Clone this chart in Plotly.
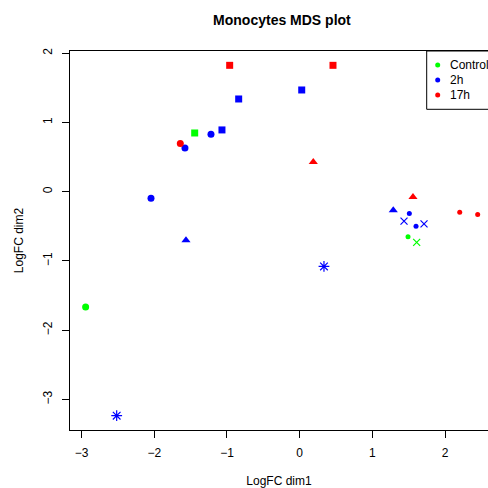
import plotly.graph_objects as go

# ---- data ----
groups = ["Control", "2h", "17h"]

control_x = [-1.444, -2.944, 1.490, 1.609]
control_y = [0.848, -1.667, -0.652, -0.733]
control_donor = ["D1", "D2", "D4", "D5"]

h2_x = [-0.839, 0.028, -1.069, -1.220, -1.578, -2.045, -1.564, 1.287, 1.508, 1.600, 1.435, 1.710, 0.334, -2.517]
h2_y = [1.339, 1.469, 0.892, 0.830, 0.632, -0.094, -0.700, -0.267, -0.315, -0.498, -0.426, -0.465, -1.079, -3.235]
h2_donor = ["D1", "D1", "D1", "D2", "D2", "D2", "D3", "D3", "D4", "D4", "D5", "D5", "D6", "D6"]

h17_x = [-0.963, 0.458, -1.642, 0.187, 1.558, 2.201, 2.448]
h17_y = [1.825, 1.825, 0.696, 0.430, -0.075, -0.296, -0.329]
h17_donor = ["D1", "D1", "D2", "D3", "D3", "D4", "D4"]

x_ticks = [-3, -2, -1, 0, 1, 2]
y_ticks = [-3, -2, -1, 0, 1, 2]

# ---- styles ----
colors = {"Control": "#00ff00", "2h": "#0000ff", "17h": "#ff0000"}
symbol_style = {
    "D1": dict(symbol="square", size=7, lw=0),
    "D2": dict(symbol="circle", size=7, lw=0),
    "D3": dict(symbol="triangle-up", size=8, lw=0),
    "D4": dict(symbol="circle", size=5, lw=0),
    "D5": dict(symbol="x-thin-open", size=7, lw=1.2),
    "D6": dict(symbol="asterisk-open", size=9, lw=1.2),
}
FONT = "Liberation Sans, Arial, Helvetica, sans-serif"

data = {
    "Control": (control_x, control_y, control_donor),
    "2h": (h2_x, h2_y, h2_donor),
    "17h": (h17_x, h17_y, h17_donor),
}

W, H = 488, 488
ML, MR, MT, MB = 70, 0, 51, 58
PW, PH = W - ML - MR, H - MT - MB


def px_x(p):
    return (p - ML) / PW


def px_y(p):
    return (H - MB - p) / PH


fig = go.Figure()
for g in groups:
    xs, ys, ds = data[g]
    c = colors[g]
    fig.add_trace(go.Scatter(
        x=xs, y=ys, mode="markers", showlegend=False, name=g,
        marker=dict(
            color=c, opacity=1,
            symbol=[symbol_style[d]["symbol"] for d in ds],
            size=[symbol_style[d]["size"] for d in ds],
            line=dict(color=c, width=[symbol_style[d]["lw"] for d in ds]),
        ),
    ))

# ---- legend box (drawn like R's legend, running off the right edge) ----
shapes = [dict(type="rect", xref="paper", yref="paper",
               x0=px_x(426.7), x1=1.1, y0=px_y(109.3), y1=1.0,
               line=dict(color="black", width=1), fillcolor="white", layer="above")]
annotations = []
row_y = [65, 80, 95]
for g, ry in zip(groups, row_y):
    shapes.append(dict(type="circle", xref="paper", yref="paper",
                       xsizemode="pixel", ysizemode="pixel",
                       xanchor=px_x(437.7), yanchor=px_y(ry),
                       x0=-2.5, x1=2.5, y0=-2.5, y1=2.5,
                       fillcolor=colors[g], line=dict(color=colors[g], width=0),
                       layer="above"))
    annotations.append(dict(text=g, xref="paper", yref="paper",
                            x=px_x(447.5), y=px_y(ry), xanchor="left", yanchor="middle",
                            showarrow=False, font=dict(size=12, color="black", family=FONT)))

fig.update_layout(
    width=W, height=H,
    margin=dict(l=ML, r=MR, t=MT, b=MB, pad=0, autoexpand=False),
    paper_bgcolor="white", plot_bgcolor="white",
    font=dict(family=FONT, size=12, color="black"),
    title=dict(text="Monocytes MDS plot", x=0.507, xref="paper", xanchor="center",
               y=1 - 20.5 / H, yref="container", yanchor="middle",
               font=dict(size=14, weight="bold", family=FONT, color="black")),
    xaxis=dict(range=[-3.159, 2.590], autorange=False, tickvals=x_ticks, ticks="outside",
               ticklen=7, tickwidth=1, tickcolor="black", showgrid=False, zeroline=False,
               showline=True, linecolor="black", linewidth=1, mirror=True,
               automargin=False, ticklabelstandoff=5,
               title=dict(text="LogFC dim1", standoff=17, font=dict(size=12)),
               tickfont=dict(size=12)),
    yaxis=dict(range=[-3.442, 2.032], autorange=False, tickvals=y_ticks, ticks="outside",
               ticklen=7, tickwidth=1, tickcolor="black", showgrid=False, zeroline=False,
               showline=True, linecolor="black", linewidth=1, mirror=False,
               tickangle=-90, automargin=False, ticklabelstandoff=5,
               title=dict(text="LogFC dim2", standoff=15, font=dict(size=12)),
               tickfont=dict(size=12)),
    shapes=shapes,
    annotations=annotations,
    showlegend=False,
)

fig.write_html("out.html", config={"displayModeBar": False},
               post_script="document.body.style.margin='0';document.body.style.overflow='hidden';")
